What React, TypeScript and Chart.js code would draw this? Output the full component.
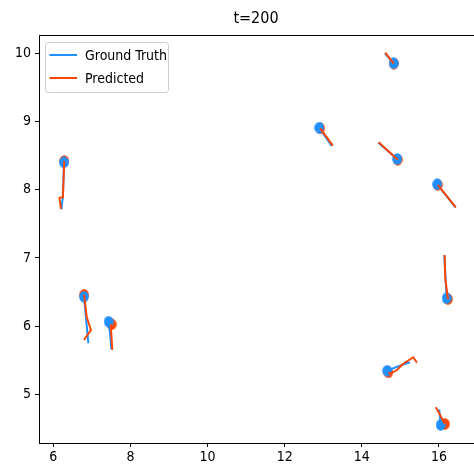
import React, { useEffect, useRef } from "react";
import { Chart, registerables } from "chart.js";

Chart.register(...registerables);

const TITLE = "t=200";
const X_TICKS = [6, 8, 10, 12, 14, 16];
const Y_TICKS = [5, 6, 7, 8, 9, 10];
const LEGEND_LABELS = ["Ground Truth", "Predicted"];
const TRUTH_COLOR = "#1E90FF";
const PRED_COLOR = "#FF4500";

// Trajectories, oldest point first; the last point is the current position (dot).
const truthA = [[6.21, 7.71], [6.25, 7.9], [6.277, 8.4]];
const predA = [[6.2, 7.72], [6.16, 7.88], [6.25, 7.89], [6.285, 8.42]];
const truthB = [[6.91, 5.75], [6.86, 6.05], [6.796, 6.43]];
const predB = [[6.796, 5.796], [6.977, 5.943], [6.866, 6.138], [6.8, 6.46]];
const truthC = [[7.51, 5.66], [7.47, 5.9], [7.434, 6.064]];
const predC = [[7.53, 5.65], [7.51, 5.85], [7.49, 6.0], [7.514, 6.026]];
const truthD = [[13.22, 8.64], [12.897, 8.909]];
const predD = [[13.25, 8.645], [12.92, 8.9]];
const truthE = [[14.43, 8.69], [14.919, 8.45]];
const predE = [[14.437, 8.695], [14.93, 8.44]];
const truthF = [[14.6, 10.0], [14.826, 9.853]];
const predF = [[14.608, 10.009], [14.83, 9.85]];
const truthG = [[16.43, 7.74], [15.956, 8.079]];
const predG = [[16.44, 7.742], [15.97, 8.07]];
const truthH = [[16.14, 7.04], [16.2, 6.408]];
const predH = [[16.148, 7.043], [16.165, 6.7], [16.235, 6.395]];
const truthI = [[15.25, 5.47], [14.94, 5.41], [14.66, 5.346]];
const predI = [[15.43, 5.463], [15.334, 5.543], [15.067, 5.444], [14.91, 5.356], [14.73, 5.3], [14.69, 5.32]];
const truthJ = [[16.008, 4.78], [16.044, 4.55]];
const predJ = [[15.922, 4.81], [16.155, 4.564]];

const TRUTHS = [truthA, truthB, truthC, truthD, truthE, truthF, truthG, truthH, truthI, truthJ];
const PREDS = [predA, predB, predC, predD, predE, predF, predG, predH, predI, predJ];

const FONT = '"DejaVu Sans Condensed", "DejaVu Sans", sans-serif';

function makeDot(color: string) {
  const c = document.createElement("canvas");
  c.width = 10;
  c.height = 12;
  const g = c.getContext("2d")!;
  g.fillStyle = color;
  g.beginPath();
  g.ellipse(5, 6, 4.8, 5.8, 0, 0, Math.PI * 2);
  g.fill();
  return c;
}

const toPts = (arr: number[][]) => arr.map(([x, y]) => ({ x, y }));

export default function App() {
  const ref = useRef<HTMLCanvasElement | null>(null);

  useEffect(() => {
    if (!ref.current) return;
    const blueDot = makeDot(TRUTH_COLOR);
    const redDot = makeDot(PRED_COLOR);

    const datasets: any[] = [];
    PREDS.forEach((p) => {
      datasets.push({
        data: toPts(p),
        showLine: true,
        borderColor: PRED_COLOR,
        borderWidth: 2,
        pointRadius: 0,
        order: 0,
      });
    });
    TRUTHS.forEach((t) => {
      datasets.push({
        data: toPts(t),
        showLine: true,
        borderColor: TRUTH_COLOR,
        borderWidth: 2,
        pointRadius: 0,
        order: 1,
      });
    });
    datasets.push({
      data: TRUTHS.map((t) => ({ x: t[t.length - 1][0], y: t[t.length - 1][1] })),
      pointStyle: blueDot,
      pointRadius: 5,
      showLine: false,
      order: 2,
    });
    datasets.push({
      data: PREDS.map((p) => ({ x: p[p.length - 1][0], y: p[p.length - 1][1] })),
      pointStyle: redDot,
      pointRadius: 5,
      showLine: false,
      order: 3,
    });

    const framePlugin = {
      id: "frame",
      afterDraw(chart: any) {
        const { ctx, chartArea } = chart;
        ctx.save();
        ctx.strokeStyle = "#000";
        ctx.lineWidth = 1;
        ctx.beginPath();
        ctx.moveTo(chartArea.left, chartArea.top + 0.5);
        ctx.lineTo(chartArea.right, chartArea.top + 0.5);
        ctx.stroke();
        // title
        ctx.fillStyle = "#000";
        ctx.font = `16px ${FONT}`;
        ctx.textAlign = "center";
        ctx.textBaseline = "middle";
        ctx.fillText(TITLE, 256, 19);
        // legend
        const bx = 45.5, by = 42.5, bw = 123, bh = 50, r = 3;
        ctx.fillStyle = "rgba(255,255,255,0.8)";
        ctx.strokeStyle = "#cccccc";
        ctx.lineWidth = 1;
        ctx.beginPath();
        ctx.moveTo(bx + r, by);
        ctx.lineTo(bx + bw - r, by);
        ctx.quadraticCurveTo(bx + bw, by, bx + bw, by + r);
        ctx.lineTo(bx + bw, by + bh - r);
        ctx.quadraticCurveTo(bx + bw, by + bh, bx + bw - r, by + bh);
        ctx.lineTo(bx + r, by + bh);
        ctx.quadraticCurveTo(bx, by + bh, bx, by + bh - r);
        ctx.lineTo(bx, by + r);
        ctx.quadraticCurveTo(bx, by, bx + r, by);
        ctx.closePath();
        ctx.fill();
        ctx.stroke();
        const colors = [TRUTH_COLOR, PRED_COLOR];
        const ys = [55, 78];
        ctx.lineWidth = 2;
        ctx.font = `14px ${FONT}`;
        ctx.textAlign = "left";
        ctx.textBaseline = "middle";
        LEGEND_LABELS.forEach((lab, i) => {
          ctx.strokeStyle = colors[i];
          ctx.beginPath();
          ctx.moveTo(49.5, ys[i]);
          ctx.lineTo(77, ys[i]);
          ctx.stroke();
          ctx.fillStyle = "#000";
          ctx.fillText(lab, 85, ys[i] + 1);
        });
        ctx.restore();
      },
    };

    const chart = new Chart(ref.current, {
      type: "scatter",
      data: { datasets },
      options: {
        animation: false,
        responsive: false,
        layout: { autoPadding: false, padding: { top: 35, left: 0, right: 0, bottom: 0 } },
        plugins: {
          legend: { display: false },
          title: { display: false },
          tooltip: { enabled: false },
        },
        scales: {
          x: {
            type: "linear",
            min: 5.63,
            max: 16.91,
            afterBuildTicks: (s: any) => {
              s.ticks = X_TICKS.map((v) => ({ value: v }));
            },
            afterFit: (s: any) => {
              s.height = 30;
            },
            ticks: {
              color: "#000",
              padding: 2,
              font: { family: FONT, size: 14 },
              maxRotation: 0,
            },
            grid: { drawOnChartArea: false, drawTicks: true, tickLength: 4, color: "#000" },
            border: { display: true, color: "#000", width: 1 },
          },
          y: {
            type: "linear",
            min: 4.286,
            max: 10.268,
            afterBuildTicks: (s: any) => {
              s.ticks = Y_TICKS.map((v) => ({ value: v }));
            },
            afterFit: (s: any) => {
              s.width = 39;
            },
            ticks: {
              color: "#000",
              padding: 4,
              font: { family: FONT, size: 14 },
            },
            grid: { drawOnChartArea: false, drawTicks: true, tickLength: 4, color: "#000" },
            border: { display: true, color: "#000", width: 1 },
          },
        },
      },
      plugins: [framePlugin],
    });
    return () => chart.destroy();
  }, []);

  return (
    <div style={{ position: "absolute", left: 0, top: 0, width: 474, height: 473, background: "#fff" }}>
      <canvas ref={ref} width={474} height={473} style={{ display: "block" }} />
    </div>
  );
}
